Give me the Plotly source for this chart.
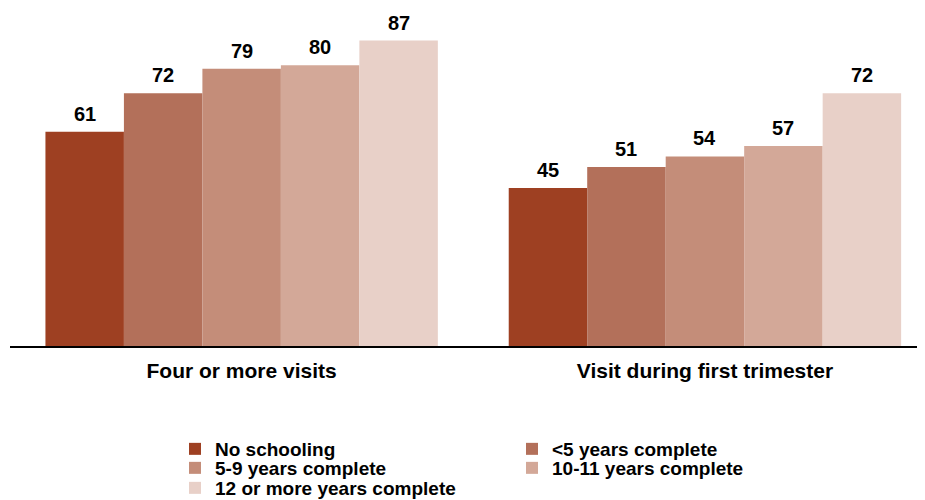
import plotly.graph_objects as go

categories = ["Four or more visits", "Visit during first trimester"]
series_names = ["No schooling", "<5 years complete", "5-9 years complete",
                "10-11 years complete", "12 or more years complete"]
values = {
    "No schooling": [61, 45],
    "<5 years complete": [72, 51],
    "5-9 years complete": [79, 54],
    "10-11 years complete": [80, 57],
    "12 or more years complete": [87, 72],
}
colors = ["#9E4022", "#B3705A", "#C48D79", "#D3A898", "#E8D0C8"]
legend_rows = ["legend", "legend", "legend2", "legend2", "legend3"]

FONT = "Liberation Sans, Arial, sans-serif"
BARGAP = 0.153
n_series = len(series_names)

fig = go.Figure()
for i, (name, col, lg) in enumerate(zip(series_names, colors, legend_rows)):
    vals = values[name]
    fig.add_trace(go.Bar(
        name=f"<b>{name}</b>", x=categories, y=vals,
        marker=dict(color=col, line=dict(width=0)),
        legend=lg, hoverinfo="x+y+name",
    ))
    # value labels placed above each bar through the axis scales
    slot = (1 - BARGAP) / n_series
    for ci, v in enumerate(vals):
        fig.add_annotation(
            x=ci - (1 - BARGAP) / 2 + (i + 0.5) * slot, y=v, xref="x", yref="y",
            text=f"<b>{v}</b>", showarrow=False, yanchor="bottom", yshift=5,
            font=dict(family=FONT, size=20, color="black"),
        )

# page body adds an 8px offset; positions below are in figure pixels
row_y = [441, 460, 480]
leg_common = dict(orientation="h", x=167 / 925, xref="container", xanchor="left",
                  yref="container", yanchor="middle",
                  entrywidth=292, entrywidthmode="pixels", traceorder="normal",
                  font=dict(size=19, family=FONT, color="black"),
                  bgcolor="rgba(0,0,0,0)", borderwidth=0)

fig.update_layout(
    width=925, height=500,
    margin=dict(l=2, r=8, t=1, b=162, autoexpand=False),
    barmode="group", bargap=BARGAP, bargroupgap=0,
    plot_bgcolor="white", paper_bgcolor="white",
    font=dict(family=FONT, color="black"),
    xaxis=dict(type="category", range=[-0.5, 1.475], showline=True, linecolor="black",
               linewidth=2, ticks="", tickfont=dict(size=21, family=FONT),
               tickprefix="<b>", ticksuffix="</b>", ticklabelstandoff=5,
               automargin=False),
    yaxis=dict(range=[0, 96], visible=False, showgrid=False),
    legend=dict(leg_common, y=1 - row_y[0] / 500),
    legend2=dict(leg_common, y=1 - row_y[1] / 500),
    legend3=dict(leg_common, y=1 - row_y[2] / 500),
    showlegend=True,
)
fig.write_html("out.html")
